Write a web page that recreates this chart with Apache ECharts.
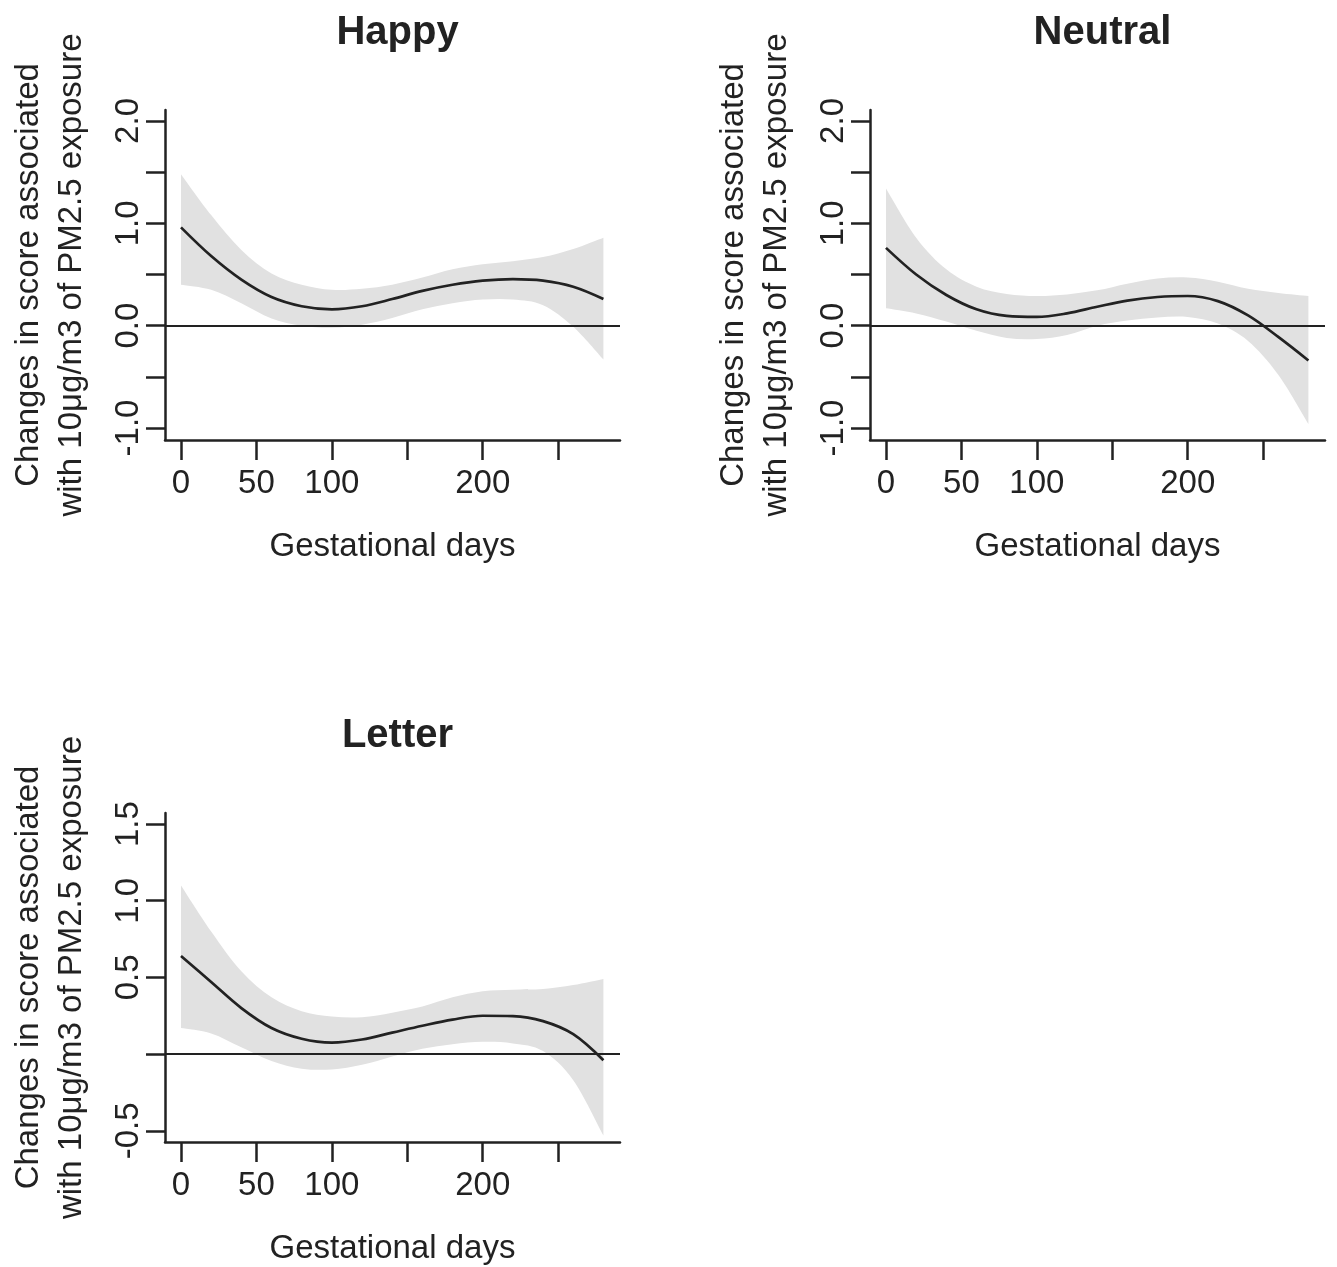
<!DOCTYPE html>
<html>
<head>
<meta charset="utf-8">
<script src="https://cdn.jsdelivr.net/npm/echarts@6/dist/echarts.min.js"></script>
<style>
html, body { margin: 0; padding: 0; background: #fff; }
#chart { width: 1337px; height: 1267px; }
</style>
</head>
<body>
<div id="chart"></div>
<script>
// 孕期天数（横轴）
const days = [0, 20, 40, 60, 80, 100, 120, 140, 160, 180, 200, 220, 240, 260, 280];

// Happy
const happyMean  = [0.96, 0.68, 0.45, 0.28, 0.19, 0.16, 0.19, 0.26, 0.34, 0.40, 0.44, 0.455, 0.44, 0.38, 0.26];
const happyLower = [0.40, 0.35, 0.22, 0.07, 0.00, -0.02, 0.01, 0.075, 0.16, 0.22, 0.255, 0.255, 0.20, -0.01, -0.33];
const happyUpper = [1.48, 1.08, 0.74, 0.51, 0.40, 0.35, 0.36, 0.40, 0.47, 0.55, 0.60, 0.63, 0.67, 0.75, 0.86];

// Neutral
const neutralMean  = [0.76, 0.50, 0.30, 0.16, 0.095, 0.085, 0.12, 0.185, 0.245, 0.28, 0.29, 0.24, 0.10, -0.11, -0.34];
const neutralLower = [0.17, 0.12, 0.04, -0.05, -0.12, -0.13, -0.09, 0.00, 0.05, 0.08, 0.085, 0.02, -0.15, -0.48, -0.96];
const neutralUpper = [1.34, 0.86, 0.55, 0.38, 0.31, 0.29, 0.305, 0.345, 0.41, 0.46, 0.47, 0.43, 0.36, 0.32, 0.29];

// Letter
const letterMean  = [0.64, 0.47, 0.30, 0.17, 0.10, 0.075, 0.095, 0.14, 0.185, 0.225, 0.25, 0.248, 0.215, 0.13, -0.04];
const letterLower = [0.17, 0.135, 0.045, -0.045, -0.095, -0.10, -0.07, -0.015, 0.035, 0.065, 0.08, 0.07, 0.02, -0.17, -0.53];
const letterUpper = [1.10, 0.80, 0.54, 0.37, 0.28, 0.245, 0.24, 0.27, 0.31, 0.37, 0.41, 0.42, 0.425, 0.45, 0.49];

// 刻度
const xTicks = [0, 50, 100, 150, 200, 250];
const xTickLabels = [0, 50, 100, 200];
const yTicksTop = [-1, -0.5, 0, 0.5, 1, 1.5, 2];
const yLabelsTop = [-1, 0, 1, 2];
const yTicksLetter = [-0.5, 0, 0.5, 1, 1.5];
const yLabelsLetter = [-0.5, 0.5, 1, 1.5];

const titles = ['Happy', 'Neutral', 'Letter'];
const yName = 'Changes in score associated\nwith 10μg/m3 of PM2.5 exposure';

const FONT = 'Liberation Sans, Arial, sans-serif';
const INK = '#222';
const BAND = '#e1e1e1';

const chart = echarts.init(document.getElementById('chart'));

// 每个面板的位置
const grids = [
    { left: 165, top: 110, width: 455, height: 330 },
    { left: 870, top: 110, width: 455, height: 330 },
    { left: 165, top: 813, width: 455, height: 329 }
];

function pairs(ys) {
    return days.map((d, i) => [d, ys[i]]);
}

// 用 Catmull-Rom 把点连成平滑曲线（SVG 路径片段）
function curveThrough(pts) {
    let d = '';
    for (let k = 0; k < pts.length - 1; k++) {
        const p0 = pts[Math.max(k - 1, 0)];
        const p1 = pts[k];
        const p2 = pts[k + 1];
        const p3 = pts[Math.min(k + 2, pts.length - 1)];
        const c1 = [p1[0] + (p2[0] - p0[0]) / 6, p1[1] + (p2[1] - p0[1]) / 6];
        const c2 = [p2[0] - (p3[0] - p1[0]) / 6, p2[1] - (p3[1] - p1[1]) / 6];
        d += ' C' + c1[0] + ',' + c1[1] + ' ' + c2[0] + ',' + c2[1] + ' ' + p2[0] + ',' + p2[1];
    }
    return d;
}

function makeXAxis(i) {
    return {
        type: 'value',
        gridIndex: i,
        min: -10.6,
        max: 291,
        name: 'Gestational days',
        nameLocation: 'middle',
        nameGap: 90,
        nameTextStyle: { fontFamily: FONT, fontSize: 33, color: INK },
        axisLine: { onZero: false, lineStyle: { color: INK, width: 2.5 } },
        axisTick: { show: true, length: 20, customValues: xTicks, lineStyle: { color: INK, width: 2.5 } },
        axisLabel: { customValues: xTickLabels, margin: 27, fontFamily: FONT, fontSize: 33, color: INK },
        splitLine: { show: false }
    };
}

function makeYAxis(i, min, max, ticks, labels) {
    return {
        type: 'value',
        gridIndex: i,
        min: min,
        max: max,
        name: yName,
        nameLocation: 'middle',
        nameGap: 72,
        nameTextStyle: { fontFamily: FONT, fontSize: 33, color: INK, lineHeight: 43 },
        axisLine: { onZero: false, lineStyle: { color: INK, width: 2.5 } },
        axisTick: { show: true, length: 19, customValues: ticks, lineStyle: { color: INK, width: 2.5 } },
        axisLabel: {
            customValues: labels,
            rotate: 90,
            margin: 20,
            fontFamily: FONT,
            fontSize: 33,
            color: INK,
            formatter: v => v.toFixed(1)
        },
        splitLine: { show: false }
    };
}

function makeSeries(i, mean, lower, upper) {
    return [
        {
            // 置信带
            type: 'custom', xAxisIndex: i, yAxisIndex: i,
            data: [0], silent: true, z: 1, clip: true,
            renderItem: function (params, api) {
                const top = days.map((d, k) => api.coord([d, upper[k]]));
                const bottom = days.map((d, k) => api.coord([d, lower[k]])).reverse();
                const path = 'M' + top[0][0] + ',' + top[0][1] + curveThrough(top)
                    + ' L' + bottom[0][0] + ',' + bottom[0][1] + curveThrough(bottom) + ' Z';
                return { type: 'path', shape: { pathData: path }, style: { fill: BAND } };
            }
        },
        {
            type: 'line', xAxisIndex: i, yAxisIndex: i,
            data: pairs(mean),
            smooth: 0.35, symbol: 'none', silent: true, z: 3,
            lineStyle: { color: INK, width: 2.7 },
            markLine: {
                silent: true, symbol: 'none', label: { show: false },
                lineStyle: { color: INK, width: 2.2, type: 'solid' },
                data: [{ yAxis: 0 }]
            }
        }
    ];
}

const option = {
    animation: false,
    backgroundColor: '#fff',
    title: titles.map((t, i) => ({
        text: t,
        left: grids[i].left + grids[i].width / 2,
        top: grids[i].top - 102,
        textAlign: 'center',
        textStyle: { fontFamily: FONT, fontSize: 40, fontWeight: 'bold', color: INK }
    })),
    grid: grids,
    xAxis: [0, 1, 2].map(makeXAxis),
    yAxis: [
        makeYAxis(0, -1.117, 2.107, yTicksTop, yLabelsTop),
        makeYAxis(1, -1.117, 2.107, yTicksTop, yLabelsTop),
        makeYAxis(2, -0.573, 1.572, yTicksLetter, yLabelsLetter)
    ],
    series: [].concat(
        makeSeries(0, happyMean, happyLower, happyUpper),
        makeSeries(1, neutralMean, neutralLower, neutralUpper),
        makeSeries(2, letterMean, letterLower, letterUpper)
    )
};

chart.setOption(option);
</script>
</body>
</html>
